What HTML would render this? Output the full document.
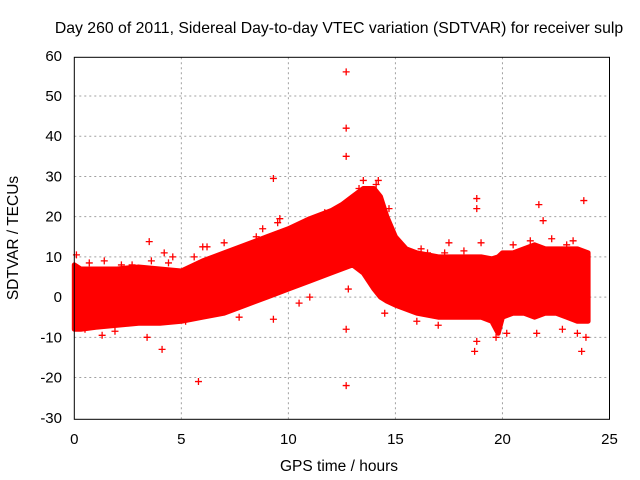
<!DOCTYPE html>
<html><head><meta charset="utf-8"><style>
body{margin:0;background:#fff;}
svg{display:block;font-family:"Liberation Sans",sans-serif;}
</style></head><body>
<svg id="chart" width="640" height="480">
<text x="339" y="33" text-anchor="middle" font-size="15.8" fill="#000">Day 260 of 2011, Sidereal Day-to-day VTEC variation (SDTVAR) for receiver sulp</text>
<text transform="translate(18,238) rotate(-90)" text-anchor="middle" font-size="15.5">SDTVAR / TECUs</text>
<text x="339" y="471" text-anchor="middle" font-size="15.5">GPS time / hours</text>
<g id="grid"></g><g id="ticks"></g><g id="marks"></g>
<rect x="74.3" y="57.3" width="535.2" height="362" fill="none" stroke="#000" stroke-width="1"/>
</svg>
<script>
const xTicks=[0,5,10,15,20,25];
const yTicks=[-30,-20,-10,0,10,20,30,40,50,60];
const bandTime=[0,0.3,1,2,3,4,5,6,7,8,9,10,11,12,12.5,13,13.5,14,14.3,14.6,15,15.5,16,17,18,19,19.5,19.8,20,20.5,21,21.5,22,22.5,23,23.5,24];
const bandUpper=[8,7,7,7,7.5,7,6.5,9,11,13,15,17,19.5,21.5,23,25,27,27,25,20,15,12,11,10,10,10,9.5,10,11,11,12,13,12,12,12,12,11];
const bandLower=[-8,-8,-7.5,-7,-6.5,-6.5,-6,-5,-4,-2,0,2,4,6,7,8,6,2,0,-1,-2,-3,-4,-5,-5,-5,-6,-9,-5,-4,-4,-5,-4,-4,-5,-6,-6];
const outTime=[12.7,12.7,12.7,12.7,12.7,9.3,5.8,3.5,4.1,4.2,0.1,5.6,6.0,9.3,9.6,13.5,14.2,18.8,18.8,18.7,21.7,21.9,23.8,23.7,23.9,18.8,19.7,17.5,16.5,14.5,12.8,1.3,3.4,7.0,2.7,0.7,1.4,2.2,3.6,4.4,4.6,6.2,8.5,8.8,9.5,11.7,12.3,13.3,14.1,14.7,15.3,16.2,17.3,18.2,19.0,20.5,21.3,22.3,23.0,23.3,0.5,1.9,5.2,7.7,10.5,11.0,16.0,17.0,20.2,21.6,22.8,23.5];
const outValue=[56,42,35,-8,-22,29.5,-21,13.8,-13,11,10.5,10,12.5,-5.5,19.5,29,29,24.5,22,-13.5,23,19,24,-13.5,-10,-11,-10,13.5,11,-4,2,-9.5,-10,13.5,8,8.5,9,8,9,8.5,10,12.5,15,17,18.5,21,22,27,28,22,12.5,12,11,11.5,13.5,13,14,14.5,13,14,-8,-8.5,-6,-5,-1.5,0,-6,-7,-9,-9,-8,-9];
const X=v=>74.3+v*(535.2/25);
const Y=v=>297.1-v*4.022;
const ns="http://www.w3.org/2000/svg";
const grid=document.getElementById('grid'),ticks=document.getElementById('ticks'),marks=document.getElementById('marks');
function mk(tag,attrs,parent){const e=document.createElementNS(ns,tag);for(const k in attrs)e.setAttribute(k,attrs[k]);parent.appendChild(e);return e;}
xTicks.forEach(t=>{
  if(t>0&&t<25){const l=mk('line',{x1:X(t),x2:X(t),y1:57.3,y2:419.3,stroke:'#a0a0a0','stroke-dasharray':'2,3'},grid);
  
  }
  const tx=mk('text',{x:X(t),y:444,'text-anchor':'middle','font-size':15},ticks);tx.textContent=t;
  
  
});
yTicks.forEach(t=>{
  if(t>-30&&t<60){const l=mk('line',{x1:74.3,x2:609.5,y1:Y(t),y2:Y(t),stroke:'#a0a0a0','stroke-dasharray':'2,3'},grid);
  
  }
  const tx=mk('text',{x:62,y:Y(t)+5,'text-anchor':'end','font-size':15},ticks);tx.textContent=t;
  
  
});
let pts=bandTime.map((t,i)=>X(t)+','+Y(bandUpper[i]));
for(let i=bandTime.length-1;i>=0;i--)pts.push(X(bandTime[i])+','+Y(bandLower[i]));
const band=mk('polygon',{points:pts.join(' '),fill:'#ff0000',stroke:'#ff0000','stroke-width':5,'stroke-linejoin':'round'},marks);


outTime.forEach((t,i)=>{
  const x=X(t),y=Y(outValue[i]);
  const p=mk('path',{d:`M${x-3.5},${y}h7M${x},${y-3.5}v7`,stroke:'#ff0000','stroke-width':1.3},marks);
  
  
});
</script>
</body></html>
